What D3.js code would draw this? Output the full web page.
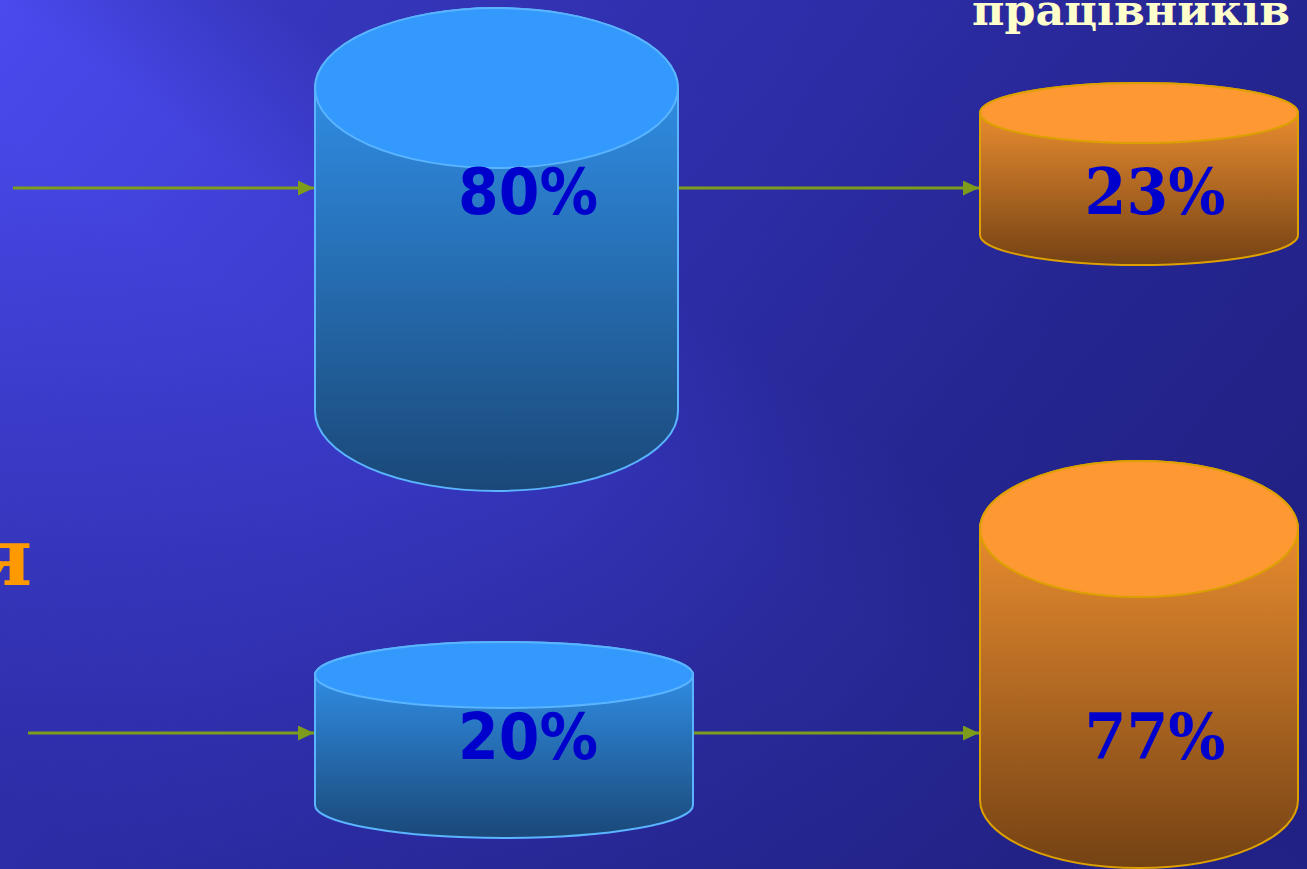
<!DOCTYPE html>
<html>
<head>
<meta charset="utf-8">
<script src="https://cdn.jsdelivr.net/npm/d3@7"></script>
<style>
  html, body { margin: 0; padding: 0; background: #25258c; overflow: hidden; }
  svg { display: block; }
</style>
</head>
<body>
<svg id="chart" width="1307" height="869"></svg>
<script>
// ---- data ----
const rows = ["row1", "row2"];
const leftValues = [80, 20];
const rightValues = [23, 77];
const headerText = "працівників";
const sideText = "я";

// ---- layout ----
const W = 1307, H = 869;
const arrowY = [188, 733];
const leftCyl = [
  { cx: 496.5, rx: 181.5, top: 88, ry: 80, labelX: 528 },
  { cx: 504, rx: 189, top: 675, ry: 33, labelX: 528 }
];
const rightCyl = [
  { cx: 1139, rx: 159, top: 113, ry: 30, labelX: 1155 },
  { cx: 1139, rx: 159, top: 529, ry: 68, labelX: 1155 }
];
const labelBaseline = [214, 759];
const arrowsX = [
  [[13, 315], [678, 980]],
  [[28, 315], [693, 980]]
];

const leftScale = d3.scaleLinear().domain([20, 80]).range([130, 323]);
const rightScale = d3.scaleLinear().domain([23, 77]).range([122, 271]);
const pct = v => d3.format("d")(v) + "%";

const svg = d3.select("#chart");
const defs = svg.append("defs");

// background
const bg1 = defs.append("linearGradient").attr("id", "bg1")
  .attr("gradientUnits", "userSpaceOnUse")
  .attr("x1", 0).attr("y1", 0).attr("x2", 1000).attr("y2", 869);
bg1.append("stop").attr("offset", 0).attr("stop-color", "#4a4aee");
bg1.append("stop").attr("offset", 0.45).attr("stop-color", "#3838c4");
bg1.append("stop").attr("offset", 0.75).attr("stop-color", "#2a2a9c");
bg1.append("stop").attr("offset", 1).attr("stop-color", "#222286");

const bg2 = defs.append("linearGradient").attr("id", "bg2")
  .attr("gradientUnits", "userSpaceOnUse")
  .attr("x1", 150).attr("y1", 900).attr("x2", 900).attr("y2", -150);
bg2.append("stop").attr("offset", 0).attr("stop-color", "#1e1e80").attr("stop-opacity", 0.45);
bg2.append("stop").attr("offset", 0.42).attr("stop-color", "#1e1e80").attr("stop-opacity", 0.0);
bg2.append("stop").attr("offset", 0.5).attr("stop-color", "#1e1e80").attr("stop-opacity", 0.0);
bg2.append("stop").attr("offset", 0.62).attr("stop-color", "#1e1e80").attr("stop-opacity", 0.35);
bg2.append("stop").attr("offset", 1).attr("stop-color", "#1e1e80").attr("stop-opacity", 0.4);

svg.append("rect").attr("width", W).attr("height", H).attr("fill", "url(#bg1)");
svg.append("rect").attr("width", W).attr("height", H).attr("fill", "url(#bg2)");

// arrow marker
defs.append("marker").attr("id", "arrow")
  .attr("viewBox", "0 0 16 15").attr("refX", 16).attr("refY", 7.5)
  .attr("markerUnits", "userSpaceOnUse")
  .attr("markerWidth", 16).attr("markerHeight", 15)
  .attr("orient", "auto")
  .append("path").attr("d", "M0,0 L16,7.5 L0,15 Z").attr("fill", "#7d9c1c");

function cylinder(g, c, h, id, colors) {
  const grad = defs.append("linearGradient").attr("id", id)
    .attr("gradientUnits", "userSpaceOnUse")
    .attr("x1", 0).attr("y1", c.top - c.ry).attr("x2", 0).attr("y2", c.top + h + c.ry);
  grad.append("stop").attr("offset", 0).attr("stop-color", colors.top);
  grad.append("stop").attr("offset", 1).attr("stop-color", colors.bottom);
  const l = c.cx - c.rx, r = c.cx + c.rx, b = c.top + h;
  g.append("path")
    .attr("d", `M${l},${c.top} L${l},${b} A${c.rx},${c.ry} 0 0 0 ${r},${b} L${r},${c.top} A${c.rx},${c.ry} 0 0 0 ${l},${c.top} Z`)
    .attr("fill", `url(#${id})`)
    .attr("stroke", colors.stroke).attr("stroke-width", 2);
  g.append("ellipse")
    .attr("cx", c.cx).attr("cy", c.top).attr("rx", c.rx).attr("ry", c.ry)
    .attr("fill", colors.cap)
    .attr("stroke", colors.stroke).attr("stroke-width", 2);
}

const blue = { top: "#349af8", bottom: "#1a4878", cap: "#3399fc", stroke: "#5ab4ff" };
const orange = { top: "#ff9a34", bottom: "#744214", cap: "#fd9833", stroke: "#dca000" };

rows.forEach((row, i) => {
  const g = svg.append("g").attr("class", row);
  // arrows
  arrowsX[i].forEach(([x0, x1]) => {
    g.append("line").attr("x1", x0).attr("x2", x1 - 1).attr("y1", arrowY[i]).attr("y2", arrowY[i])
      .attr("stroke", "#7d9c1c").attr("stroke-width", 3)
      .attr("marker-end", "url(#arrow)");
  });
  cylinder(g, leftCyl[i], leftScale(leftValues[i]), "lg" + i, blue);
  cylinder(g, rightCyl[i], rightScale(rightValues[i]), "rg" + i, orange);

  g.append("text").attr("x", leftCyl[i].labelX).attr("y", labelBaseline[i])
    .attr("text-anchor", "middle")
    .attr("font-family", "DejaVu Sans, Verdana, sans-serif")
    .attr("font-weight", "bold").attr("font-size", 64)
    .attr("textLength", 140).attr("lengthAdjust", "spacingAndGlyphs")
    .attr("fill", "#0000cc")
    .text(pct(leftValues[i]));
  g.append("text").attr("x", rightCyl[i].labelX).attr("y", labelBaseline[i])
    .attr("text-anchor", "middle")
    .attr("font-family", "DejaVu Serif, serif")
    .attr("font-weight", "bold").attr("font-size", 64)
    .attr("textLength", 141).attr("lengthAdjust", "spacingAndGlyphs")
    .attr("fill", "#0000cc")
    .text(pct(rightValues[i]));
});

// header text (cropped at the top edge, as in the reference)
svg.append("text").attr("x", 1290).attr("y", 25)
  .attr("text-anchor", "end")
  .attr("font-family", "DejaVu Serif, serif")
  .attr("font-weight", "bold").attr("font-size", 42)
  .attr("textLength", 318).attr("lengthAdjust", "spacingAndGlyphs")
  .attr("fill", "#ffffcc")
  .text(headerText);

// side text (cropped at the left edge, as in the reference)
svg.append("text").attr("x", 32).attr("y", 585)
  .attr("text-anchor", "end")
  .attr("font-family", "DejaVu Serif, serif")
  .attr("font-weight", "bold").attr("font-size", 80)
  .attr("fill", "#ff9900")
  .text(sideText);
</script>
</body>
</html>
